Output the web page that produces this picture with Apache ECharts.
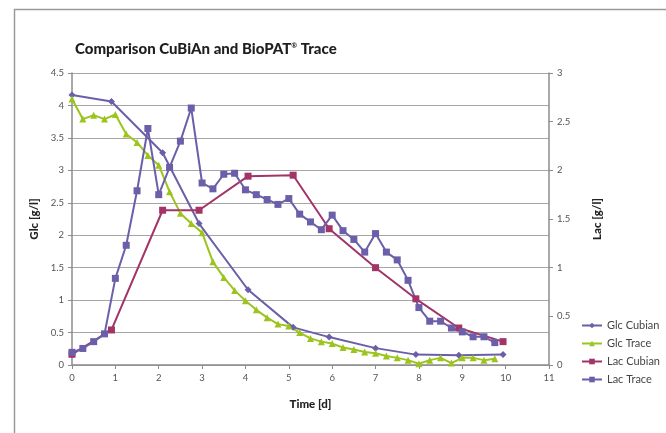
<!DOCTYPE html>
<html><head><meta charset="utf-8">
<script src="https://cdn.jsdelivr.net/npm/echarts@6/dist/echarts.min.js"></script>
<style>html,body{margin:0;padding:0;background:#fff}#c{width:666px;height:433px}</style>
</head><body><div id="c"></div>
<script>
// Glc Cubian / Lac Cubian sampling times (days)
const cubianTime = [0, 0.91, 2.09, 2.93, 4.06, 5.1, 5.93, 7.0, 7.93, 8.92, 9.94];
const glcCubian = [4.16, 4.06, 3.27, 2.18, 1.16, 0.58, 0.43, 0.26, 0.16, 0.15, 0.16];
const lacCubian = [0.11, 0.36, 1.59, 1.59, 1.94, 1.95, 1.40, 1.00, 0.68, 0.38, 0.24];
// Trace sampling times (days)
const traceTime = [0,0.25,0.5,0.75,1,1.25,1.5,1.75,2,2.25,2.5,2.75,3,3.25,3.5,3.75,4,4.25,4.5,4.75,5,5.25,5.5,5.75,6,6.25,6.5,6.75,7,7.25,7.5,7.75,8,8.25,8.5,8.75,9,9.25,9.5,9.75];
const glcTrace = [4.10,3.79,3.85,3.79,3.86,3.56,3.43,3.23,3.08,2.67,2.34,2.18,2.04,1.59,1.35,1.15,0.99,0.85,0.73,0.63,0.60,0.50,0.41,0.36,0.33,0.27,0.24,0.20,0.18,0.14,0.11,0.075,0.02,0.075,0.11,0.03,0.11,0.11,0.075,0.095];
const lacTrace = [0.13,0.17,0.24,0.32,0.89,1.23,1.79,2.43,1.75,2.03,2.30,2.64,1.87,1.81,1.96,1.97,1.80,1.75,1.70,1.65,1.71,1.55,1.47,1.39,1.54,1.38,1.29,1.16,1.35,1.16,1.08,0.87,0.59,0.45,0.45,0.38,0.34,0.29,0.29,0.23];
const xTicks = {min: 0, max: 11, interval: 1};
const glcTicks = {min: 0, max: 4.5, interval: 0.5};
const lacTicks = {min: 0, max: 3, interval: 0.5};

const purple = '#6A5FA8', green = '#9CC41E', magenta = '#A23468';
const zip = (t, v) => t.map((x, i) => [x, v[i]]);
const fam = 'Lato, "Open Sans", sans-serif';
const chart = echarts.init(document.getElementById('c'));
const axisCommon = {
  axisLine: {show: true, lineStyle: {color: '#8c8c8c', width: 1.5}},
  axisTick: {show: true, inside: false, length: 4, lineStyle: {color: '#8c8c8c'}},
  axisLabel: {color: '#555', fontSize: 9.5, fontFamily: fam},
  nameTextStyle: {color: '#222', fontSize: 11.5, fontWeight: 900, fontFamily: fam}
};
chart.setOption({
  animation: false,
  graphic: [{type: 'rect', left: 12, top: 7, shape: {width: 700, height: 460},
    style: {fill: 'none', stroke: '#9a9a9a', lineWidth: 1.5}}],
  title: {
    text: '{a|Comparison CuBiAn and BioPAT}{s|®}{a| Trace}',
    left: 70, top: 37,
    textStyle: {rich: {
      a: {fontSize: 15, fontWeight: 900, color: '#1e1e1e', fontFamily: fam},
      s: {fontSize: 7, fontWeight: 'bold', color: '#222', fontFamily: fam, verticalAlign: 'top', padding: [0, 0, 8, 0]}
    }}
  },
  legend: {
    orient: 'vertical', left: 576, top: 315, itemGap: 7, itemWidth: 20, itemHeight: 7,
    textStyle: {color: '#444', fontSize: 11, fontFamily: fam},
    data: ['Glc Cubian', 'Glc Trace', 'Lac Cubian', 'Lac Trace']
  },
  grid: {left: 72, right: 117, top: 73, bottom: 68},
  xAxis: Object.assign({}, axisCommon, {
    type: 'value', min: xTicks.min, max: xTicks.max, interval: xTicks.interval,
    name: 'Time [d]', nameLocation: 'middle', nameGap: 33, splitLine: {show: false},
    axisLabel: Object.assign({}, axisCommon.axisLabel, {margin: 8})
  }),
  yAxis: [
    Object.assign({}, axisCommon, {
      type: 'value', position: 'left', min: glcTicks.min, max: glcTicks.max, interval: glcTicks.interval,
      name: 'Glc [g/l]', nameLocation: 'middle', nameGap: 30, nameRotate: 90,
      splitLine: {show: true, lineStyle: {color: '#a6a6a6', width: 1}}
    }),
    Object.assign({}, axisCommon, {
      type: 'value', position: 'right', min: lacTicks.min, max: lacTicks.max, interval: lacTicks.interval,
      name: 'Lac [g/l]', nameLocation: 'middle', nameGap: 42, nameRotate: 90,
      splitLine: {show: false}
    })
  ],
  series: [
    {name: 'Glc Cubian', type: 'line', yAxisIndex: 0, data: zip(cubianTime, glcCubian),
      symbol: 'diamond', symbolSize: 7, lineStyle: {color: purple, width: 2}, itemStyle: {color: purple}},
    {name: 'Glc Trace', type: 'line', yAxisIndex: 0, data: zip(traceTime, glcTrace),
      symbol: 'triangle', symbolSize: 7, lineStyle: {color: green, width: 2}, itemStyle: {color: green}},
    {name: 'Lac Cubian', type: 'line', yAxisIndex: 1, data: zip(cubianTime, lacCubian),
      symbol: 'rect', symbolSize: 7, lineStyle: {color: magenta, width: 2}, itemStyle: {color: magenta}},
    {name: 'Lac Trace', type: 'line', yAxisIndex: 1, data: zip(traceTime, lacTrace),
      symbol: 'rect', symbolSize: 7, lineStyle: {color: purple, width: 2}, itemStyle: {color: purple}}
  ]
});
</script></body></html>
